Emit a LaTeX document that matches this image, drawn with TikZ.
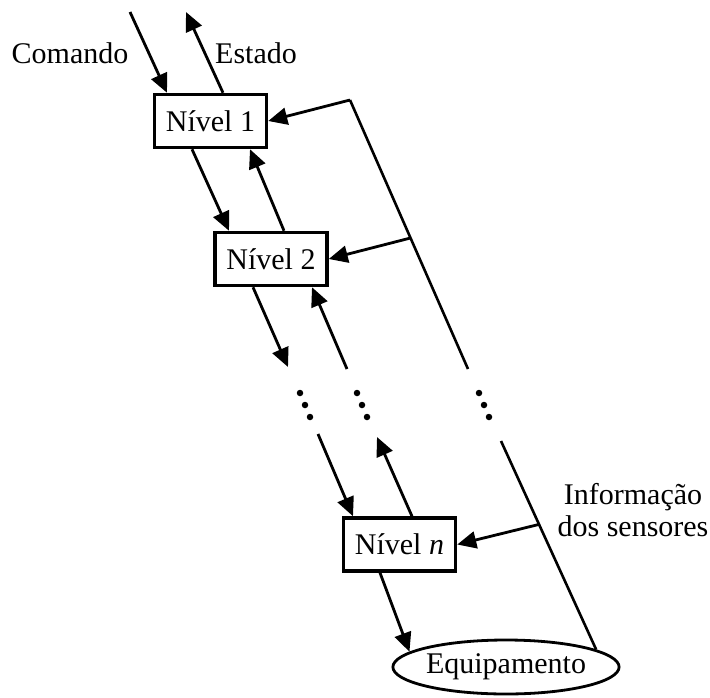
\documentclass[tikz,border=0pt]{standalone}
\usepackage{fontspec}
\setmainfont{Liberation Serif}
\usetikzlibrary{arrows.meta,shapes.geometric,calc}

\begin{document}
\begin{tikzpicture}[x=1pt,y=-1pt,
    every node/.style={font=\fontsize{30}{32}\selectfont},
    levelbox/.style={draw,line width=3.5pt,minimum width=112pt,minimum height=53pt,inner sep=0pt},
    plant/.style={draw,ellipse,line width=2.8pt,minimum width=216pt,minimum height=54pt,inner sep=0pt},
    arr/.style={line width=2.8pt,-{Triangle[length=19pt,width=17pt]}},
    wire/.style={line width=2.6pt},
    dot/.style={circle,fill,inner sep=0pt,minimum size=6.5pt}]
  \useasboundingbox (0,0) rectangle (710,697);

  % hierarchy levels and the controlled equipment
  \node[levelbox] (n1) at (210.5,121) {Nível 1};
  \node[levelbox] (n2) at (271,259) {Nível 2};
  \node[levelbox] (nn) at (399.5,544.5) {Nível \textit{n}};
  \node[plant] (eq) at (506,667) {Equipamento};

  % labels
  \node (cmd) at (70,53) {Comando};
  \node (est) at (256,53) {Estado};
  \node[align=center] (info) at (633,510) {Informação\\dos sensores};

  % free ends of the connectors
  \coordinate (cmdin) at (130,12);
  \coordinate (estout) at (186,12);
  \coordinate (d1a) at (288,367);
  \coordinate (u1a) at (347,369);
  \coordinate (d1b) at (318,434);
  \coordinate (u1b) at (377,437);
  \coordinate (fbtop) at (350,100);
  \coordinate (fbmid) at (468,369);
  \coordinate (fblow) at (501,441);

  % command / status flow
  \draw[arr] (cmdin) -- ($(n1.north)+(-43.5,0)$);
  \draw[arr] ($(n1.north)+(12.5,0)$) -- (estout);
  \draw[arr] ($(n1.south)+(-18.5,0)$) -- ($(n2.north)+(-42,0)$);
  \draw[arr] ($(n2.north)+(13,0)$) -- ($(n1.south)+(39.5,0)$);
  \draw[arr] ($(n2.south)+(-18,0)$) -- (d1a);
  \draw[arr] (u1a) -- ($(n2.south)+(41,0)$);
  \draw[arr] (d1b) -- ($(nn.north)+(-46.5,0)$);
  \draw[arr] ($(nn.north)+(12.5,0)$) -- (u1b);
  \draw[arr] ($(nn.south)+(-19.5,0)$) -- (eq.171);

  % sensor information bus
  \draw[wire] (fbtop) -- (fbmid) coordinate[pos=0.513] (b2);
  \draw[wire] (fblow) -- (eq.11) coordinate[pos=0.40] (bn);
  \draw[arr] (fbtop) -- (n1.east);
  \draw[arr] (b2) -- (n2.east);
  \draw[arr] (bn) -- (nn.east);

  % continuation dots
  \foreach \x in {300,357,479}
    \foreach \k in {0,1,2}
      \node[dot] at ({\x+5*\k},{393+12*\k}) {};
\end{tikzpicture}
\end{document}
